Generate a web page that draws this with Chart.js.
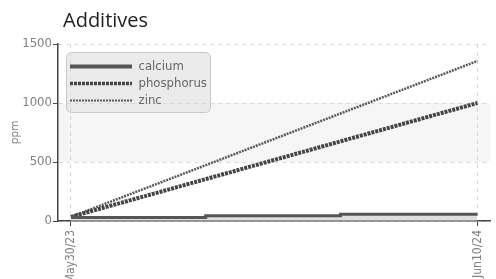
<!DOCTYPE html>
<html>
<head>
<meta charset="utf-8">
<script src="https://cdn.jsdelivr.net/npm/chart.js@4/dist/chart.umd.min.js"></script>
<style>
html,body{margin:0;padding:0;background:#fff;}
#wrap{position:relative;width:496px;height:279px;}
</style>
</head>
<body>
<div id="wrap"><canvas id="c" width="496" height="279"></canvas></div>
<script>
// ---- data ----
const title = 'Additives';
const yTitle = 'ppm';
const seriesNames = ['calcium', 'phosphorus', 'zinc'];
const tickDays = [0, 377];                 // May30/23 .. Jun10/24 (days)
const tickLabels = ['May30/23', 'Jun10/24'];
const calciumDays = [0, 125, 250, 377];
const calcium = [30, 45, 57, 57];
const lineDays = [0, 377];
const phosphorus = [35, 1000];
const zinc = [35, 1356];
const yTicks = [0, 500, 1000, 1500];
const band = [500, 1000];

const narrow = '"Liberation Sans Narrow", "DejaVu Sans Condensed", "Roboto", sans-serif';

const layoutPlugin = {
  id: 'layoutFix',
  afterUpdate(chart) {
    const lg = chart.legend;
    if (lg) {
      const h = lg.height;
      lg.left = 66; lg.top = 56;
      lg.right = lg.left + lg.width; lg.bottom = lg.top + h;
      lg.adjustHitBoxes();
    }
    if (chart.titleBlock) {
      const w = chart.titleBlock.width;
      chart.titleBlock.left = 63;
      chart.titleBlock.right = 63 + w;
    }
  },
  beforeDraw(chart) {
    const {ctx, chartArea, scales} = chart;
    const y = scales.y;
    ctx.save();
    ctx.fillStyle = '#f6f6f6';
    const top = y.getPixelForValue(band[1]);
    const bot = y.getPixelForValue(band[0]);
    ctx.fillRect(chartArea.left, top, chartArea.right - chartArea.left, bot - top);
    // legend backdrop
    ctx.fillStyle = 'rgba(233,233,233,0.9)';
    ctx.strokeStyle = '#c8c8c8';
    ctx.lineWidth = 1;
    ctx.beginPath();
    ctx.roundRect(66.5, 52.5, 144, 60, 5);
    ctx.fill();
    ctx.stroke();
    ctx.restore();
  }
};

new Chart(document.getElementById('c'), {
  type: 'line',
  data: {
    datasets: [
      {
        label: seriesNames[0],
        data: calciumDays.map((d, i) => ({x: d, y: calcium[i]})),
        borderColor: '#555',
        backgroundColor: 'rgba(200,200,200,0.6)',
        borderWidth: 3,
        stepped: true,
        fill: 'origin',
        pointRadius: 0
      },
      {
        label: seriesNames[1],
        data: lineDays.map((d, i) => ({x: d, y: phosphorus[i]})),
        borderColor: '#444',
        backgroundColor: '#444',
        borderWidth: 4,
        borderDash: [3, 1],
        fill: false,
        pointRadius: 0
      },
      {
        label: seriesNames[2],
        data: lineDays.map((d, i) => ({x: d, y: zinc[i]})),
        borderColor: '#5a5a5a',
        backgroundColor: '#5a5a5a',
        borderWidth: 2.5,
        borderDash: [2, 1],
        fill: false,
        pointRadius: 0
      }
    ]
  },
  options: {
    responsive: false,
    animation: false,
    layout: {padding: {left: 0, right: 4, top: 0, bottom: 0}},
    plugins: {
      title: {
        display: true,
        text: title,
        align: 'start',
        fullSize: false,
        color: '#222',
        font: {family: '"Open Sans", "Noto Sans", sans-serif', size: 20, weight: 'normal'},
        padding: {top: 9, bottom: 11}
      },
      legend: {
        position: 'chartArea',
        align: 'start',
        labels: {
          color: '#666',
          font: {family: narrow, size: 13},
          boxWidth: 56,
          boxHeight: 4,
          padding: 4,
          usePointStyle: true,
          pointStyleWidth: 62,
          generateLabels(chart) {
            const items = Chart.defaults.plugins.legend.labels.generateLabels(chart);
            items.forEach(it => {
              const ds = chart.data.datasets[it.datasetIndex];
              it.pointStyle = 'line';
              it.lineDash = ds.borderDash || [];
              it.strokeStyle = ds.borderColor;
              it.fillStyle = ds.borderColor;
            });
            items[0].lineWidth = 4;
            items[1].lineWidth = 3.5;
            items[2].lineWidth = 2;
            return items;
          }
        }
      },
      tooltip: {enabled: false}
    },
    scales: {
      x: {
        type: 'linear',
        min: -12,
        max: 389,
        afterBuildTicks(scale) { scale.ticks = tickDays.map(v => ({value: v})); },
        afterFit(scale) { scale.height = 58; },
        ticks: {
          minRotation: 90,
          maxRotation: 90,
          color: '#808080',
          font: {family: narrow, size: 12},
          padding: 4,
          callback(v) { const i = tickDays.indexOf(v); return i >= 0 ? tickLabels[i] : ''; }
        },
        grid: {color: '#d8d8d8', tickColor: '#444', tickLength: 5, lineWidth: 1},
        border: {color: '#444', width: 1.5, dash: [4, 4]}
      },
      y: {
        min: 0,
        max: 1500,
        afterBuildTicks(scale) { scale.ticks = yTicks.map(v => ({value: v})); },
        afterFit(scale) { scale.width = 58; },
        title: {
          display: true,
          text: yTitle,
          color: '#777',
          font: {family: '"Open Sans", "Noto Sans", sans-serif', size: 11},
          padding: {top: 8, bottom: 0}
        },
        ticks: {
          color: '#808080',
          font: {family: narrow, size: 13},
          padding: 1,
          callback(v) { return String(v); }
        },
        grid: {color: '#d8d8d8', tickColor: '#444', tickLength: 5, lineWidth: 1},
        border: {color: '#444', width: 1.5, dash: [4, 4]}
      }
    }
  },
  plugins: [layoutPlugin]
});
</script>
</body>
</html>
